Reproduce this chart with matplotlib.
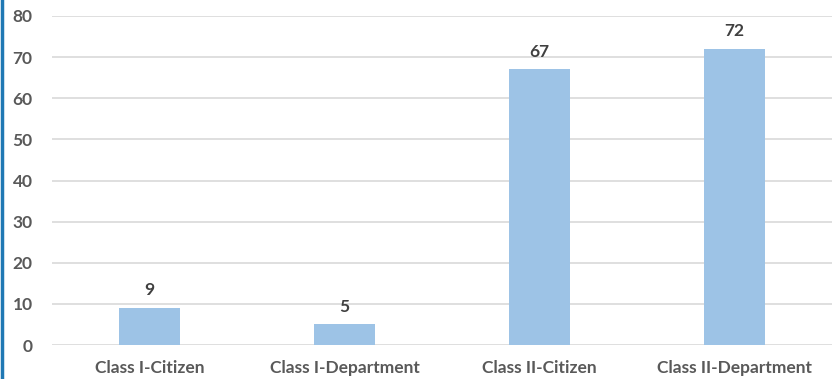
import matplotlib.pyplot as plt
from matplotlib.lines import Line2D

# dados do grafico
categorias = ['Class I-Citizen', 'Class I-Department', 'Class II-Citizen', 'Class II-Department']
valores = [9, 5, 67, 72]
yticks = [0, 10, 20, 30, 40, 50, 60, 70, 80]

plt.rcParams['font.family'] = ['Lato', 'DejaVu Sans']
cinza = '#595959'

fig = plt.figure(figsize=(8.36, 3.79), dpi=100)
ax = fig.add_axes([52 / 836, 1 - 345 / 379, 780 / 836, 329 / 379])

x = range(len(categorias))
barras = ax.bar(x, valores, width=0.31, color='#9DC3E6', zorder=2)

# rotulos em cima das barras
for b, v in zip(barras, valores):
    ax.text(b.get_x() + b.get_width() / 2, v + 2.4, str(v), ha='center', va='bottom',
            fontsize=12.5, fontweight='bold', color='#404040')

ax.set_xlim(-0.5, 3.5)
ax.set_ylim(0, 80)
ax.set_yticks(yticks)
ax.set_xticks(list(x))
ax.set_xticklabels(categorias)
ax.yaxis.grid(True, color='#D9D9D9', linewidth=1.2, zorder=0)
ax.set_axisbelow(True)
for s in ax.spines.values():
    s.set_visible(False)
ax.tick_params(length=0, labelsize=12.5, labelcolor=cinza)
ax.tick_params(axis='x', pad=11)
ax.tick_params(axis='y', pad=14)
for lbl in ax.get_xticklabels() + ax.get_yticklabels():
    lbl.set_fontweight('bold')

# linha azul na borda esquerda
fig.add_artist(Line2D([0.002, 0.002], [0, 1], color='#1F78B4', linewidth=2.5,
                      transform=fig.transFigure))

fig.savefig('out.png', dpi=100)
